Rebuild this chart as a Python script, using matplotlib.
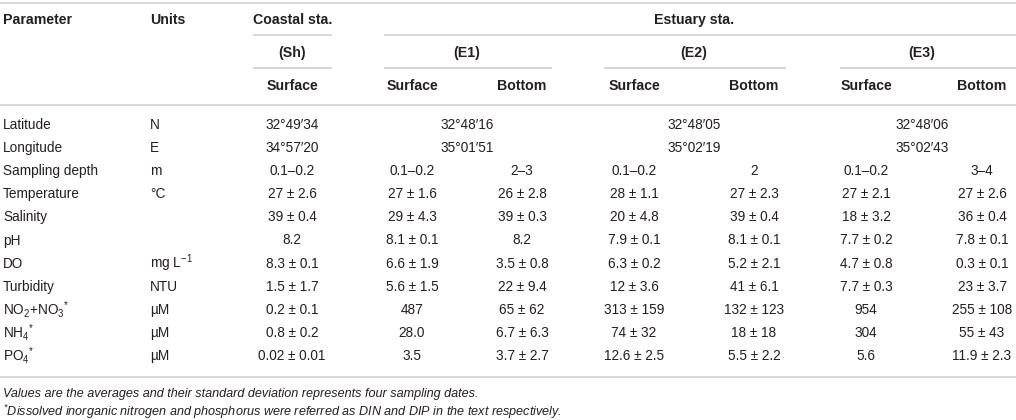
import matplotlib
matplotlib.use("Agg")
import matplotlib.pyplot as plt

plt.rcParams['font.family'] = ['Liberation Sans', 'DejaVu Sans']
plt.rcParams['mathtext.fontset'] = 'custom'
plt.rcParams['mathtext.rm'] = 'Liberation Sans'
plt.rcParams['mathtext.it'] = 'Liberation Sans:italic'
plt.rcParams['mathtext.bf'] = 'Liberation Sans:bold'

# table content
params = ['Latitude', 'Longitude', 'Sampling depth', 'Temperature', 'Salinity',
          'pH', 'DO', 'Turbidity', 'NO$_\\mathregular{2}$+NO$_\\mathregular{3}$$^{\\mathregular{*}}$',
          'NH$_\\mathregular{4}$$^{\\mathregular{*}}$', 'PO$_\\mathregular{4}$$^{\\mathregular{*}}$']
units = ['N', 'E', 'm', '°C', '', '', 'mg L$^{\\mathregular{\u22121}}$', 'NTU', 'µM', 'µM', 'µM']

# merged rows (one value per station)
latitude = ['32°49′34', '32°48′16', '32°48′05', '32°48′06']
longitude = ['34°57′20', '35°01′51', '35°02′19', '35°02′43']

# per-column rows: Sh surface, E1 surface, E1 bottom, E2 surface, E2 bottom, E3 surface, E3 bottom
depth = ['0.1–0.2', '0.1–0.2', '2–3', '0.1–0.2', '2', '0.1–0.2', '3–4']
temperature = ['27 ± 2.6', '27 ± 1.6', '26 ± 2.8', '28 ± 1.1', '27 ± 2.3', '27 ± 2.1', '27 ± 2.6']
salinity = ['39 ± 0.4', '29 ± 4.3', '39 ± 0.3', '20 ± 4.8', '39 ± 0.4', '18 ± 3.2', '36 ± 0.4']
ph = ['8.2', '8.1 ± 0.1', '8.2', '7.9 ± 0.1', '8.1 ± 0.1', '7.7 ± 0.2', '7.8 ± 0.1']
do = ['8.3 ± 0.1', '6.6 ± 1.9', '3.5 ± 0.8', '6.3 ± 0.2', '5.2 ± 2.1', '4.7 ± 0.8', '0.3 ± 0.1']
turbidity = ['1.5 ± 1.7', '5.6 ± 1.5', '22 ± 9.4', '12 ± 3.6', '41 ± 6.1', '7.7 ± 0.3', '23 ± 3.7']
no2no3 = ['0.2 ± 0.1', '487', '65 ± 62', '313 ± 159', '132 ± 123', '954', '255 ± 108']
nh4 = ['0.8 ± 0.2', '28.0', '6.7 ± 6.3', '74 ± 32', '18 ± 18', '304', '55 ± 43']
po4 = ['0.02 ± 0.01', '3.5', '3.7 ± 2.7', '12.6 ± 2.5', '5.5 ± 2.2', '5.6', '11.9 ± 2.3']

stations = ['(Sh)', '(E1)', '(E2)', '(E3)']
depth_labels = ['Surface', 'Surface', 'Bottom', 'Surface', 'Bottom', 'Surface', 'Bottom']
notes = ['Values are the averages and their standard deviation represents four sampling dates.',
         '$^{\\mathregular{*}}$Dissolved inorganic nitrogen and phosphorus were referred as DIN and DIP in the text respectively.']

merged_rows = [latitude, longitude]
column_rows = [depth, temperature, salinity, ph, do, turbidity, no2no3, nh4, po4]

# layout (pixels)
W, H = 1016, 420
col_x = [292, 412, 522, 634, 754, 866, 982]
station_x = [292, 467, 694, 922]
station_span = [(253, 332), (384, 552), (604, 786), (840, 1016)]
row0, row_step = 125, 23.1
txt = '#231f20'
line_c = '#cfcfcf'
fs = 9.8
fs_b = 10.2
fs_note = 9.1

fig = plt.figure(figsize=(W / 100, H / 100), dpi=100)
ax = fig.add_axes([0, 0, 1, 1])
ax.set_xlim(0, W)
ax.set_ylim(H, 0)
ax.axis('off')

def hline(y, x0=0, x1=W):
    ax.plot([x0, x1], [y, y], color=line_c, lw=1.2, solid_capstyle='butt')

# header
hline(2.5)
ax.text(3, 20, 'Parameter', fontsize=fs_b, fontweight='bold', color=txt, va='center')
ax.text(150, 20, 'Units', fontsize=fs_b, fontweight='bold', color=txt, va='center')
ax.text(253, 20, 'Coastal sta.', fontsize=fs_b, fontweight='bold', color=txt, va='center')
ax.text(694, 20, 'Estuary sta.', fontsize=fs_b, fontweight='bold', color=txt, va='center', ha='center')
hline(35, 253, 332)
hline(35, 384, W)
for name, x in zip(stations, station_x):
    ax.text(x, 52.5, name, fontsize=fs_b, fontweight='bold', color=txt, va='center', ha='center')
for x0, x1 in station_span:
    hline(68, x0, x1)
for lab, x in zip(depth_labels, col_x):
    ax.text(x, 86, lab, fontsize=fs_b, fontweight='bold', color=txt, va='center', ha='center')
hline(105)

# body
for i, (p, u) in enumerate(zip(params, units)):
    y = row0 + i * row_step
    ax.text(3, y, p, fontsize=fs, color=txt, va='center')
    ax.text(150, y, u, fontsize=fs, color=txt, va='center')

for i, row in enumerate(merged_rows):
    y = row0 + i * row_step
    for v, x in zip(row, station_x):
        ax.text(x, y, v, fontsize=fs, color=txt, va='center', ha='center')

for i, row in enumerate(column_rows):
    y = row0 + (i + len(merged_rows)) * row_step
    for v, x in zip(row, col_x):
        ax.text(x, y, v, fontsize=fs, color=txt, va='center', ha='center')

hline(376.5)

# footnotes
ax.text(3, 394, notes[0], fontsize=fs_note, style='italic', color=txt, va='center')
ax.text(3, 412, notes[1], fontsize=fs_note, style='italic', color=txt, va='center')

fig.savefig('out.png', dpi=100, facecolor='white')
